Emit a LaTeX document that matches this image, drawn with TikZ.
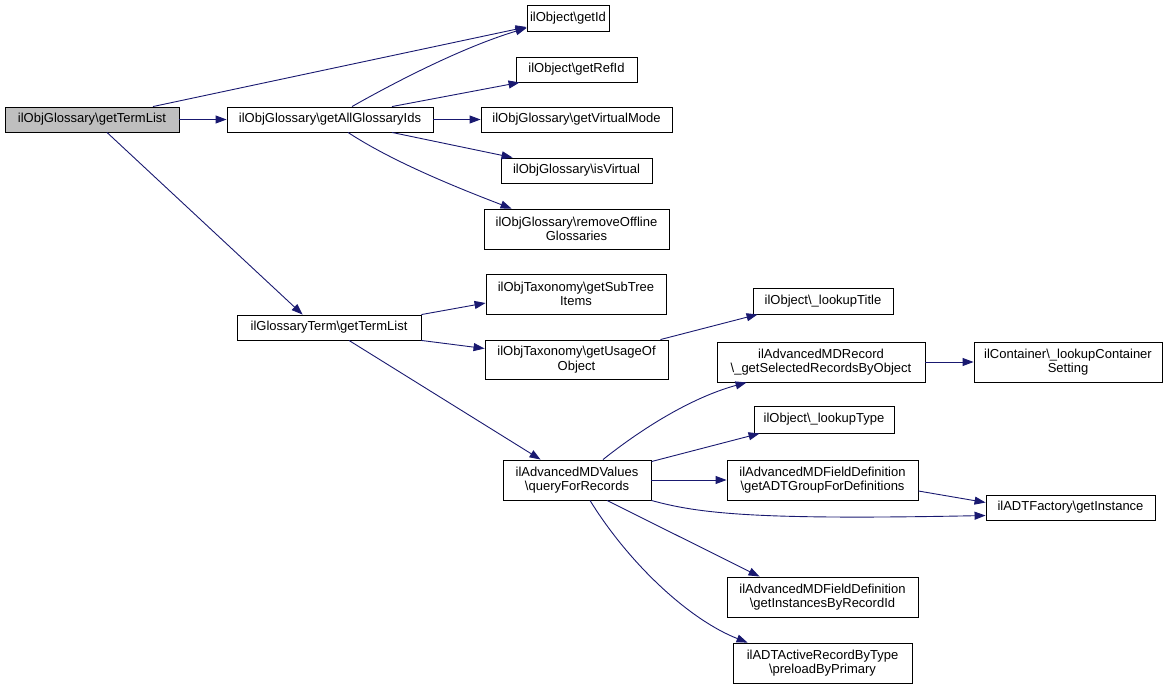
\documentclass[tikz,border=0pt]{standalone}
\usepackage{fontspec}
\setmainfont{Liberation Sans}
\usetikzlibrary{arrows.meta}
\definecolor{edgeblue}{HTML}{191970}
\definecolor{rootgray}{HTML}{BFBFBF}
\tikzset{
  fn/.style={draw=black, line width=0.9pt, fill=white, inner sep=0pt, align=center,
    font=\fontsize{13}{14.5}\selectfont},
  call/.style={draw=edgeblue, line width=0.9pt, -{Triangle[length=11pt,width=8pt]}},
}
\begin{document}
\begin{tikzpicture}[x=1pt,y=-1pt]
\useasboundingbox (0,0) rectangle (1168,689);
\node[fn, fill=rootgray, minimum width=174pt, minimum height=25pt] (root) at (92,119.5) {ilObjGlossary\textbackslash getTermList};
\node[fn, minimum width=206pt, minimum height=25pt] (gaid) at (330,119.5) {ilObjGlossary\textbackslash getAllGlossaryIds};
\node[fn, minimum width=82pt, minimum height=26pt] (getid) at (568,18) {ilObject\textbackslash getId};
\node[fn, minimum width=121pt, minimum height=25pt] (getrefid) at (576.5,69.5) {ilObject\textbackslash getRefId};
\node[fn, minimum width=191pt, minimum height=25pt] (gvm) at (576.5,119.5) {ilObjGlossary\textbackslash getVirtualMode};
\node[fn, minimum width=151pt, minimum height=25pt] (isv) at (576.5,170.5) {ilObjGlossary\textbackslash isVirtual};
\node[fn, minimum width=185pt, minimum height=40pt] (rog) at (576.5,229) {ilObjGlossary\textbackslash removeOffline\\Glossaries};
\node[fn, minimum width=184pt, minimum height=25pt] (gtl) at (329,327.5) {ilGlossaryTerm\textbackslash getTermList};
\node[fn, minimum width=180pt, minimum height=40pt] (gst) at (576,294) {ilObjTaxonomy\textbackslash getSubTree\\Items};
\node[fn, minimum width=183pt, minimum height=39pt] (guo) at (576.5,359.5) {ilObjTaxonomy\textbackslash getUsageOf\\Object};
\node[fn, minimum width=140pt, minimum height=26pt] (lt) at (823,301) {ilObject\textbackslash \_lookupTitle};
\node[fn, minimum width=208pt, minimum height=40pt] (amr) at (821,362) {ilAdvancedMDRecord\\\textbackslash \_getSelectedRecordsByObject};
\node[fn, minimum width=188pt, minimum height=40pt] (lcs) at (1068,362) {ilContainer\textbackslash \_lookupContainer\\Setting};
\node[fn, minimum width=140pt, minimum height=27pt] (ltype) at (824,419.5) {ilObject\textbackslash \_lookupType};
\node[fn, minimum width=148pt, minimum height=40pt] (qfr) at (577,480) {ilAdvancedMDValues\\\textbackslash queryForRecords};
\node[fn, minimum width=191pt, minimum height=40pt] (gadt) at (822.5,480) {ilAdvancedMDFieldDefinition\\\textbackslash getADTGroupForDefinitions};
\node[fn, minimum width=169pt, minimum height=25pt] (adtf) at (1070.5,507.5) {ilADTFactory\textbackslash getInstance};
\node[fn, minimum width=191pt, minimum height=40pt] (gibr) at (822.5,597) {ilAdvancedMDFieldDefinition\\\textbackslash getInstancesByRecordId};
\node[fn, minimum width=179pt, minimum height=40pt] (adtar) at (822.5,663) {ilADTActiveRecordByType\\\textbackslash preloadByPrimary};

\draw[call] ([xshift=61pt]root.north) -- ([yshift=-9pt]getid.west);
\draw[call] (root.east) -- (gaid.west);
\draw[call] ([xshift=15pt]root.south) -- ([xshift=66pt]gtl.north west);

\draw[call] ([xshift=22pt]gaid.north) .. controls (390,85) and (460,48) .. ([yshift=-10pt]getid.west);
\draw[call] ([xshift=62pt]gaid.north) -- ([xshift=4pt]getrefid.south west);
\draw[call] (gaid.east) -- (gvm.west);
\draw[call] ([xshift=62pt]gaid.south) -- ([xshift=12pt]isv.north west);
\draw[call] ([xshift=18pt]gaid.south) .. controls (390,160) and (450,185) .. ([xshift=28pt]rog.north west);

\draw[call] (gtl.north east) -- ([yshift=-9pt]gst.west);
\draw[call] (gtl.south east) -- ([yshift=11pt]guo.west);
\draw[call] ([xshift=20pt]gtl.south) -- ([xshift=38pt]qfr.north west);

\draw[call] ([xshift=-8pt]guo.north east) -- ([xshift=5pt]lt.south west);
\draw[call] (amr.east) -- (lcs.west);

\draw[call] ([xshift=26pt]qfr.north) .. controls (640,430) and (690,398) .. ([xshift=30pt]amr.south west);
\draw[call] ([yshift=-2pt]qfr.north east) -- ([xshift=6pt]ltype.south west);
\draw[call] (qfr.east) -- (gadt.west);
\draw[call] (qfr.south east) .. controls (700,514) and (760,520) .. ([yshift=-8pt]adtf.west);
\draw[call] ([yshift=-11pt]gadt.east) -- ([yshift=5pt]adtf.west);
\draw[call] ([xshift=30pt]qfr.south) -- ([xshift=33pt]gibr.north west);
\draw[call] ([xshift=13pt]qfr.south) .. controls (630,565) and (690,620) .. ([xshift=15pt]adtar.north west);
\end{tikzpicture}
\end{document}
